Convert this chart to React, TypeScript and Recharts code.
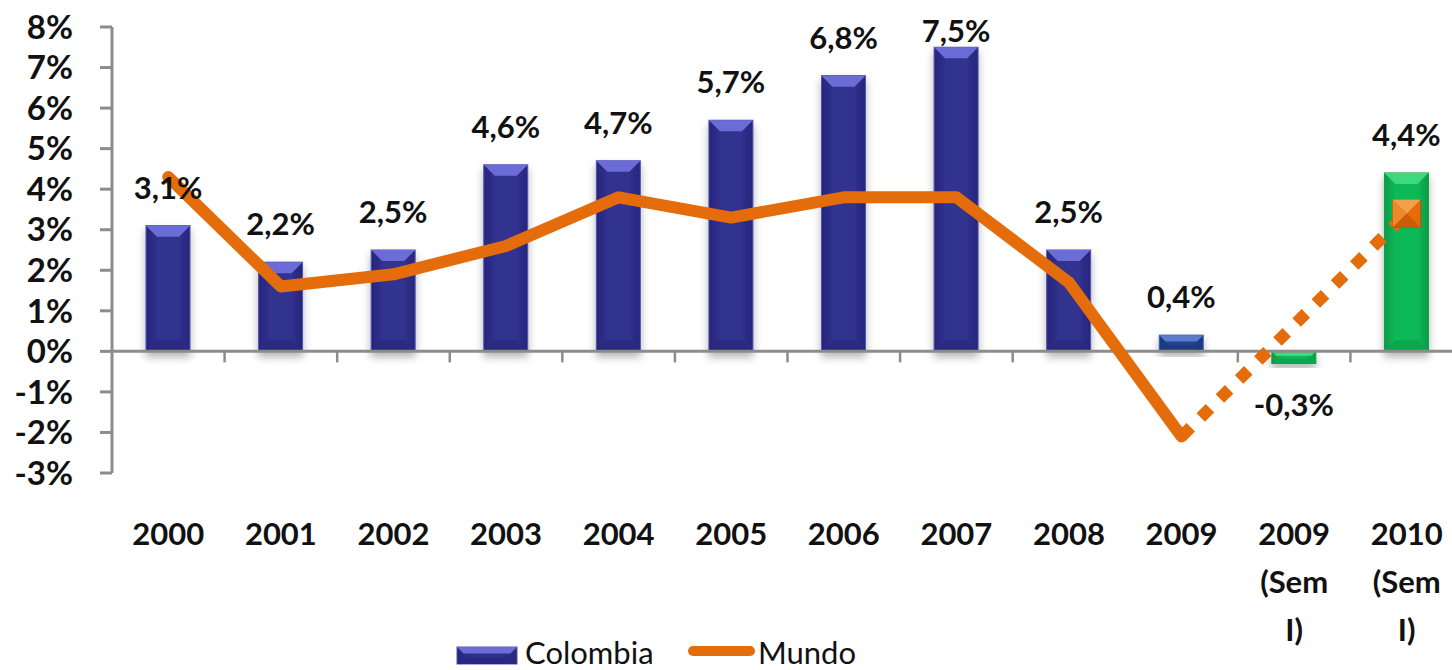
import {
  Bar,
  ComposedChart,
  LabelList,
  Line,
  ReferenceLine,
  XAxis,
  YAxis,
} from "recharts";

const categories = [
  "2000",
  "2001",
  "2002",
  "2003",
  "2004",
  "2005",
  "2006",
  "2007",
  "2008",
  "2009",
  "2009 (Sem I)",
  "2010 (Sem I)",
];
const colombia = [3.1, 2.2, 2.5, 4.6, 4.7, 5.7, 6.8, 7.5, 2.5, 0.4, -0.3, 4.4];
const mundo = [4.3, 1.6, 1.9, 2.6, 3.8, 3.3, 3.8, 3.8, 1.7, -2.1, null, null];
const mundoSem = [null, null, null, null, null, null, null, null, null, -2.1, null, 3.4];
const yTicks = [-3, -2, -1, 0, 1, 2, 3, 4, 5, 6, 7, 8];

// which palette each bar uses
const barPalette = ["navy", "navy", "navy", "navy", "navy", "navy", "navy", "navy", "navy", "blue", "green", "green"];

const data = categories.map((cat, i) => ({
  cat,
  colombia: colombia[i],
  mundo: mundo[i],
  mundoSem: mundoSem[i],
}));

const FONT = "Lato, 'DejaVu Sans', sans-serif";
const AXIS = "#8c8c8c";
const ORANGE = "#E46C0A";

const palettes: Record<string, { body: string; edge: string; top: string; bottom: string; rim: string }> = {
  navy: { body: "#30308F", edge: "#26267A", top: "#6C6CD6", bottom: "#29297F", rim: "#5252B4" },
  blue: { body: "#22438F", edge: "#1B3777", top: "#5A7CCB", bottom: "#1D3A7C", rim: "#3F5FAE" },
  green: { body: "#0DB957", edge: "#0A9A47", top: "#3CD981", bottom: "#0BA64D", rim: "#0E9C4A" },
};

const fmt = (v: number) => `${v.toFixed(1).replace(".", ",")}%`;

function drawBevel(x: number, top: number, w: number, h: number, key: string) {
  const p = palettes[key];
  const b = Math.min(11, h / 2.6, w / 2);
  return (
    <>
      <rect x={x} y={top} width={w} height={h} fill={`url(#grad-${key})`} stroke={p.rim} strokeWidth={1} />
      <polygon
        points={`${x},${top} ${x + w},${top} ${x + w - b},${top + b} ${x + b},${top + b}`}
        fill={p.top}
      />
      <polygon
        points={`${x},${top + h} ${x + w},${top + h} ${x + w - b},${top + h - b} ${x + b},${top + h - b}`}
        fill={p.bottom}
      />
    </>
  );
}

function BevelBar(props: any) {
  const { x, y, width, height, index } = props;
  const h = Math.abs(height);
  if (!h) return <g />;
  const top = Math.min(y, y + height);
  return <g filter="url(#barShadow)">{drawBevel(x, top, width, h, barPalette[index])}</g>;
}

function ValueLabel(props: any) {
  const { x, y, width, height, value, index } = props;
  const top = Math.min(y, y + height);
  const bottom = Math.max(y, y + height);
  const ty = value >= 0 ? Math.max(top - 27, 42) : bottom + 52;
  return (
    <text
      key={`lbl-${index}`}
      x={x + width / 2}
      y={ty}
      textAnchor="middle"
      fontFamily={FONT}
      fontSize={31}
      fontWeight={700}
      fill="#111"
    >
      {fmt(value)}
    </text>
  );
}

function CategoryTick(props: any) {
  const { x, y, payload } = props;
  const lines = String(payload.value).split(" ");
  return (
    <g>
      {lines.map((t, i) => (
        <text
          key={i}
          x={x}
          y={y + 72 + i * 48}
          textAnchor="middle"
          fontFamily={FONT}
          fontSize={31}
          fontWeight={700}
          fill="#111"
        >
          {t}
        </text>
      ))}
    </g>
  );
}

function ZeroAxis(props: any) {
  const { x1, x2, y1 } = props;
  const step = (x2 - x1) / categories.length;
  return (
    <g>
      <line x1={x1} x2={x2} y1={y1} y2={y1} stroke={AXIS} strokeWidth={3} />
      {categories.map((_, i) =>
        i === 0 ? null : (
          <line
            key={i}
            x1={x1 + i * step}
            x2={x1 + i * step}
            y1={y1}
            y2={y1 + 11}
            stroke={AXIS}
            strokeWidth={2.5}
          />
        )
      )}
    </g>
  );
}

function SemMarker(props: any) {
  const { cx, cy, index, value } = props;
  if (index !== categories.length - 1 || value == null || cx == null) return <g key={`m-${index}`} />;
  const s = 14;
  return (
    <g key={`m-${index}`}>
      <rect x={cx - s} y={cy - s} width={2 * s} height={2 * s} fill={ORANGE} stroke="#B9560A" strokeWidth={1} />
      <polygon points={`${cx - s},${cy - s} ${cx + s},${cy - s} ${cx},${cy}`} fill="#F3A04C" />
      <polygon points={`${cx - s},${cy - s} ${cx - s},${cy + s} ${cx},${cy}`} fill="#EE8A2E" />
      <polygon points={`${cx - s},${cy + s} ${cx + s},${cy + s} ${cx},${cy}`} fill="#C95E08" />
    </g>
  );
}

export default function App() {
  return (
    <div
      style={{
        position: "absolute",
        left: 0,
        top: 0,
        width: 1452,
        height: 670,
        overflow: "hidden",
        background: "#fff",
      }}
    >
      <ComposedChart
        width={1470}
        height={670}
        data={data}
        margin={{ top: 27, right: 7, bottom: 0, left: 0 }}
      >
        <defs>
          {Object.entries(palettes).map(([k, p]) => (
            <linearGradient key={k} id={`grad-${k}`} x1="0" y1="0" x2="1" y2="0">
              <stop offset="0" stopColor={p.edge} />
              <stop offset="0.25" stopColor={p.body} />
              <stop offset="0.75" stopColor={p.body} />
              <stop offset="1" stopColor={p.edge} />
            </linearGradient>
          ))}
          <filter id="barShadow" x="-30%" y="-30%" width="160%" height="160%">
            <feDropShadow dx="0" dy="5" stdDeviation="4" floodColor="#000" floodOpacity="0.3" />
          </filter>
        </defs>
        <XAxis
          dataKey="cat"
          height={197}
          axisLine={false}
          tickLine={false}
          tickSize={0}
          tickMargin={0}
          interval={0}
          tick={(p: any) => <CategoryTick {...p} />}
        />
        <YAxis
          domain={[-3, 8]}
          ticks={yTicks}
          interval={0}
          width={112}
          tickFormatter={(v: number) => `${v}%`}
          axisLine={{ stroke: AXIS, strokeWidth: 3 }}
          tickLine={{ stroke: AXIS, strokeWidth: 3 }}
          tickSize={12}
          tickMargin={27}
          tick={{ fontFamily: FONT, fontSize: 33, fontWeight: 700, fill: "#111" }}
        />
        <Bar
          dataKey="colombia"
          barSize={44}
          shape={(p: any) => <BevelBar {...p} />}
          isAnimationActive={false}
        >
          <LabelList dataKey="colombia" content={(p: any) => <ValueLabel {...p} />} />
        </Bar>
        <ReferenceLine y={0} shape={(p: any) => <ZeroAxis {...p} />} />
        <Line
          dataKey="mundo"
          stroke={ORANGE}
          strokeWidth={12}
          strokeLinecap="round"
          strokeLinejoin="round"
          dot={false}
          activeDot={false}
          isAnimationActive={false}
        />
        <Line
          dataKey="mundoSem"
          stroke={ORANGE}
          strokeWidth={12}
          strokeDasharray="13 14"
          connectNulls
          dot={(p: any) => <SemMarker key={`m-${p.index}`} {...p} />}
          activeDot={false}
          isAnimationActive={false}
        />
      </ComposedChart>
      <svg
        width={1452}
        height={670}
        style={{ position: "absolute", left: 0, top: 0, pointerEvents: "none" }}
      >
        {drawBevel(457, 647, 60, 17, "navy")}
        <text x={525} y={664} fontFamily={FONT} fontSize={31} fill="#111">
          Colombia
        </text>
        <line x1={693} x2={750} y1={651} y2={651} stroke={ORANGE} strokeWidth={10} strokeLinecap="round" />
        <text x={758} y={664} fontFamily={FONT} fontSize={31} fill="#111">
          Mundo
        </text>
      </svg>
    </div>
  );
}
